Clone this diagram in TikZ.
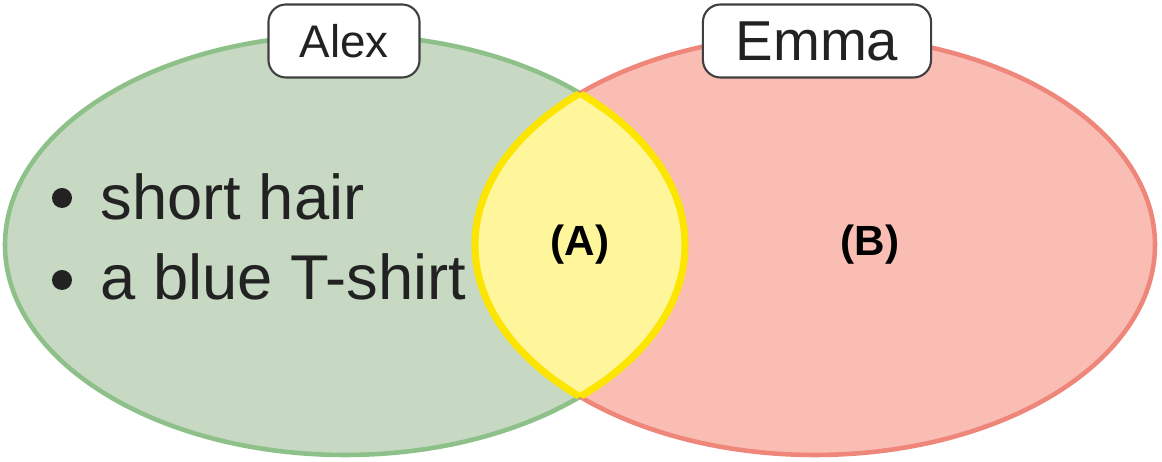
\documentclass[tikz,border=0pt]{standalone}
\usepackage{fontspec}
\setmainfont{Liberation Sans}
\usepackage{tikz}

\definecolor{alexfill}{HTML}{C7D9C2}
\definecolor{alexline}{HTML}{8DC189}
\definecolor{emmafill}{HTML}{F9BDB4}
\definecolor{emmaline}{HTML}{EE867A}
\definecolor{bothfill}{HTML}{FFF69B}
\definecolor{bothline}{HTML}{FCE500}
\definecolor{inkgray}{HTML}{222222}

\begin{document}
\begin{tikzpicture}[x=0.01cm,y=-0.01cm,
  nametag/.style={draw=black!75,line width=0.6pt,fill=white,rounded corners=5pt,
    inner sep=0pt,minimum height=0.73cm,text=inkgray},
  bulletdot/.style={circle,fill=inkgray,inner sep=0pt,minimum size=0.2cm},
  item/.style={anchor=base west,inner sep=0pt,text=inkgray,font=\fontsize{18}{22}\selectfont},
  region/.style={text=black,font=\bfseries\fontsize{12}{14}\selectfont}]
\useasboundingbox (0,0) rectangle (1162,462);

% Alex and Emma sets
\draw[fill=alexfill,draw=alexline,line width=1.3pt] (345,245) ellipse [x radius=340, y radius=210];
\draw[fill=emmafill,draw=emmaline,line width=1.3pt] (815,245) ellipse [x radius=340, y radius=210];

% Overlap (A)
\begin{scope}
  \clip (345,245) ellipse [x radius=340, y radius=210];
  \fill[bothfill] (815,245) ellipse [x radius=340, y radius=210];
  \draw[bothline,line width=2pt] (815,245) ellipse [x radius=340, y radius=210];
\end{scope}
\begin{scope}
  \clip (815,245) ellipse [x radius=340, y radius=210];
  \draw[bothline,line width=2pt] (345,245) ellipse [x radius=340, y radius=210];
\end{scope}

% Name tags
\node[nametag,minimum width=1.51cm,font=\fontsize{13}{15}\selectfont] (alex) at (344,41) {Alex};
\node[nametag,minimum width=2.28cm,font=\fontsize{16}{18}\selectfont] (emma) at (817,41) {Emma};

% Alex only
\node[bulletdot] (dot1) at (62,198) {};
\node[item] (hair) at (100,220) {short hair};
\node[bulletdot] (dot2) at (62,280) {};
\node[item] (shirt) at (100,300) {a blue T-shirt};

% Region labels
\node[region] (both) at (580,245) {(A)};
\node[region] (emmaonly) at (870,245) {(B)};
\end{tikzpicture}
\end{document}
